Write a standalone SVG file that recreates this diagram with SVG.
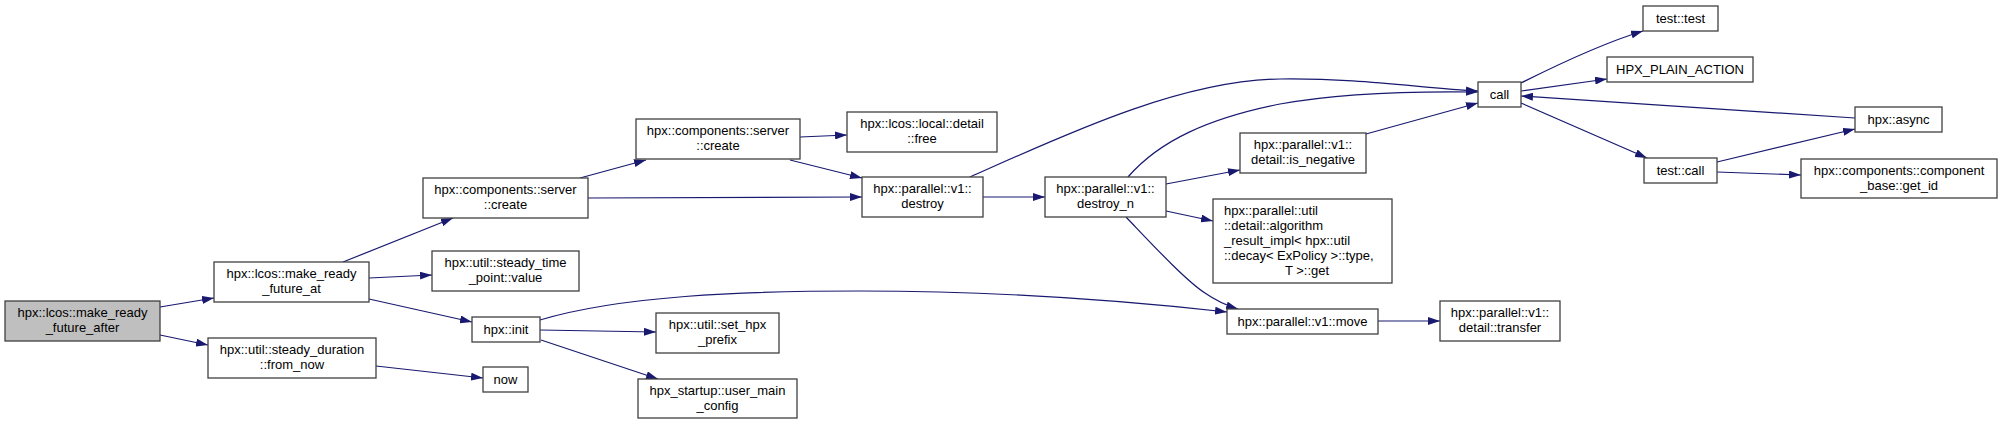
<svg xmlns="http://www.w3.org/2000/svg" width="2001" height="425" viewBox="0 0 2001 425">
<defs>
<marker id="ah" viewBox="0 0 12 8" refX="12" refY="4" markerWidth="12" markerHeight="8" markerUnits="userSpaceOnUse" orient="auto">
<path d="M0,0 L12,4 L0,8 z" fill="#191970"/>
</marker>
</defs>
<style>
rect{fill:#ffffff;stroke:#404040;stroke-width:1.3}
rect.root{fill:#bfbfbf}
text{font-family:"Liberation Sans",Arial,sans-serif;font-size:13px;fill:#000;text-anchor:middle}
text.l{text-anchor:start}
#edges path{fill:none;stroke:#191970;stroke-width:1.2;marker-end:url(#ah)}
</style>
<rect width="2001" height="425" style="fill:#fff;stroke:none"/>
<g id="edges">
<path d="M160,307 L214,298"/>
<path d="M160,335 L208,345"/>
<path d="M343,262 L453,218"/>
<path d="M369,278 L432,275"/>
<path d="M369,299 L472,322"/>
<path d="M580,178 L646,160"/>
<path d="M588,198 L862,197"/>
<path d="M800,137 L847,135"/>
<path d="M790,160 L862,178"/>
<path d="M970,177 C1060,137 1180,80 1280,79 C1360,78 1420,88 1478,91"/>
<path d="M983,197 L1045,197"/>
<path d="M1128,177 C1160,140 1210,118 1280,104 C1340,93 1410,91 1478,92"/>
<path d="M1366,134 L1478,103"/>
<path d="M1166,184 L1240,170"/>
<path d="M1166,211 L1213,221"/>
<path d="M1126,217 C1150,242 1185,280 1205,293 C1215,300 1225,305 1238,309"/>
<path d="M540,320 C620,296 740,291 860,291 C990,291 1120,300 1227,312"/>
<path d="M540,330 L656,332"/>
<path d="M541,340 L658,379"/>
<path d="M376,366 L483,378"/>
<path d="M1378,321 L1440,321"/>
<path d="M1521,83 C1555,66 1600,44 1643,31"/>
<path d="M1521,91 L1607,79"/>
<path d="M1855,118 L1521,96"/>
<path d="M1521,103 L1647,158"/>
<path d="M1717,162 L1855,129"/>
<path d="M1717,172 L1801,175"/>
</g>
<g id="n_main"><rect class="root" x="5" y="301" width="155" height="40"/><text x="82.5" y="317">hpx::lcos::make_ready</text><text x="82.5" y="332">_future_after</text></g>
<g id="n_mrfa"><rect x="214" y="262" width="155" height="40"/><text x="291.5" y="278">hpx::lcos::make_ready</text><text x="291.5" y="293">_future_at</text></g>
<g id="n_from_now"><rect x="208" y="338" width="168" height="40"/><text x="292" y="354">hpx::util::steady_duration</text><text x="292" y="369">::from_now</text></g>
<g id="n_create1"><rect x="423" y="178" width="165" height="40"/><text x="505.5" y="194">hpx::components::server</text><text x="505.5" y="209">::create</text></g>
<g id="n_stp"><rect x="432" y="251" width="147" height="40"/><text x="505.5" y="267">hpx::util::steady_time</text><text x="505.5" y="282">_point::value</text></g>
<g id="n_init"><rect x="472" y="317" width="68" height="25"/><text x="506" y="334">hpx::init</text></g>
<g id="n_now"><rect x="483" y="367" width="45" height="25"/><text x="505.5" y="384">now</text></g>
<g id="n_create2"><rect x="636" y="119" width="164" height="40"/><text x="718" y="135">hpx::components::server</text><text x="718" y="150">::create</text></g>
<g id="n_free"><rect x="847" y="112" width="150" height="40"/><text x="922" y="128">hpx::lcos::local::detail</text><text x="922" y="143">::free</text></g>
<g id="n_set_prefix"><rect x="656" y="313" width="123" height="40"/><text x="717.5" y="329">hpx::util::set_hpx</text><text x="717.5" y="344">_prefix</text></g>
<g id="n_umc"><rect x="638" y="379" width="159" height="39"/><text x="717.5" y="395">hpx_startup::user_main</text><text x="717.5" y="410">_config</text></g>
<g id="n_destroy"><rect x="862" y="177" width="121" height="40"/><text x="922.5" y="193">hpx::parallel::v1::</text><text x="922.5" y="208">destroy</text></g>
<g id="n_destroy_n"><rect x="1045" y="177" width="121" height="40"/><text x="1105.5" y="193">hpx::parallel::v1::</text><text x="1105.5" y="208">destroy_n</text></g>
<g id="n_is_negative"><rect x="1240" y="133" width="126" height="40"/><text x="1303" y="149">hpx::parallel::v1::</text><text x="1303" y="164">detail::is_negative</text></g>
<g id="n_algorithm"><rect x="1213" y="199" width="179" height="84"/><text class="l" x="1224" y="215">hpx::parallel::util</text><text class="l" x="1224" y="230">::detail::algorithm</text><text class="l" x="1224" y="245">_result_impl&lt; hpx::util</text><text class="l" x="1224" y="260">::decay&lt; ExPolicy &gt;::type,</text><text x="1307" y="275">T &gt;::get</text></g>
<g id="n_move"><rect x="1227" y="309" width="151" height="25"/><text x="1302.5" y="326">hpx::parallel::v1::move</text></g>
<g id="n_transfer"><rect x="1440" y="301" width="120" height="40"/><text x="1500" y="317">hpx::parallel::v1::</text><text x="1500" y="332">detail::transfer</text></g>
<g id="n_call"><rect x="1478" y="82" width="43" height="25"/><text x="1499.5" y="99">call</text></g>
<g id="n_test_test"><rect x="1643" y="6" width="75" height="25"/><text x="1680.5" y="23">test::test</text></g>
<g id="n_hpx_plain_action"><rect x="1607" y="57" width="146" height="25"/><text x="1680" y="74">HPX_PLAIN_ACTION</text></g>
<g id="n_async"><rect x="1855" y="107" width="87" height="25"/><text x="1898.5" y="124">hpx::async</text></g>
<g id="n_test_call"><rect x="1644" y="158" width="73" height="25"/><text x="1680.5" y="175">test::call</text></g>
<g id="n_get_id"><rect x="1801" y="159" width="196" height="39"/><text x="1899" y="175">hpx::components::component</text><text x="1899" y="190">_base::get_id</text></g>
</svg>
